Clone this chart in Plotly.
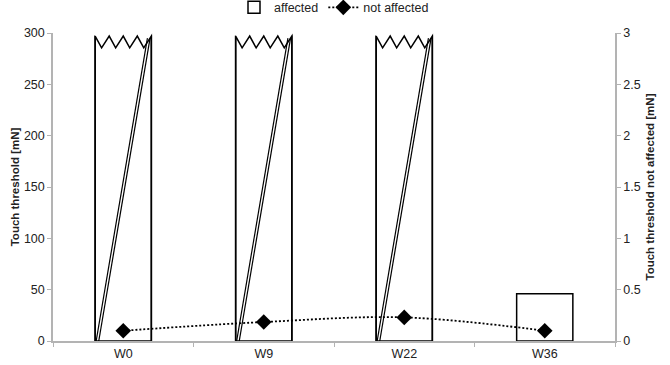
import plotly.graph_objects as go

categories = ["W0", "W9", "W22", "W36"]
affected = [297, 297, 297, 46]          # first three bars are broken (off scale)
broken = [True, True, True, False]
not_affected = [0.10, 0.185, 0.23, 0.10]

FONT = "Liberation Sans, Arial, sans-serif"
AXIS_GREY = "#b3b3b3"
TEXT = "#222222"
BAR_W = 0.4

fig = go.Figure()
fig.add_trace(go.Bar(
    x=categories, y=affected, name="affected", width=BAR_W,
    marker=dict(color="white", line=dict(color="black", width=1.5)),
    yaxis="y",
))
fig.add_trace(go.Scatter(
    x=categories, y=not_affected, name="not affected", mode="lines+markers",
    line=dict(color="black", width=1.8, dash="2px,2px", shape="spline"),
    marker=dict(symbol="diamond", size=12, color="black"),
    yaxis="y2",
))

# break marks on the off-scale bars
shapes = []
for i, (v, b) in enumerate(zip(affected, broken)):
    if not b:
        continue
    x0, x1 = i - BAR_W / 2, i + BAR_W / 2
    w = x1 - x0
    top, low = v, v - 11.5
    peaks = [0, 0.25, 0.5, 0.75, 1.0]
    valleys = [0.115, 0.365, 0.615, 0.865]
    pts = []
    for k in range(4):
        pts.append((x0 + peaks[k] * w, top))
        pts.append((x0 + valleys[k] * w, low))
    pts.append((x1, top))
    cover = "M " + " L ".join(f"{x},{y}" for x, y in pts) + f" L {x1 + 0.01},{top + 3} L {x0 - 0.01},{top + 3} Z"
    shapes.append(dict(type="path", path=cover, xref="x", yref="y",
                       fillcolor="white", line=dict(width=0), layer="above"))
    outline = f"M {x0},0 L " + " L ".join(f"{x},{y}" for x, y in pts) + f" L {x1},0"
    shapes.append(dict(type="path", path=outline, xref="x", yref="y",
                       line=dict(color="black", width=1.5), layer="above"))
    for a, c in [(0.018, 0.93), (0.064, 0.977)]:
        shapes.append(dict(type="line", xref="x", yref="y",
                           x0=x0 + a * w, y0=0, x1=x0 + c * w, y1=top - 2,
                           line=dict(color="black", width=1.2), layer="above"))

fig.update_layout(
    width=670, height=365,
    margin=dict(l=53, r=55, t=33, b=24, autoexpand=False),
    paper_bgcolor="white", plot_bgcolor="white",
    font=dict(family=FONT, size=12, color=TEXT),
    showlegend=True,
    legend=dict(orientation="h", x=0.5, xanchor="center", y=1.082, yanchor="middle",
                font=dict(size=12.5, color=TEXT), traceorder="normal",
                itemwidth=30, tracegroupgap=0),
    shapes=shapes,
    xaxis=dict(type="category", range=[-0.5, 3.5], showline=True, linecolor=AXIS_GREY,
               linewidth=1.5, ticks="outside", tickson="boundaries", ticklen=4,
               tickcolor=AXIS_GREY, showgrid=False, tickfont=dict(size=12.5)),
    yaxis=dict(range=[0, 300], dtick=50, showline=True, linecolor=AXIS_GREY, linewidth=1.5,
               ticks="outside", ticklen=4, tickcolor=AXIS_GREY, showgrid=False, zeroline=False,
               tickfont=dict(size=12.5),
               title=dict(text="Touch threshold [mN]", font=dict(size=11.5, weight="bold"), standoff=2)),
    yaxis2=dict(range=[0, 3], dtick=0.5, overlaying="y", side="right", showline=True,
                linecolor=AXIS_GREY, linewidth=1.5, ticks="outside", ticklen=4, tickcolor=AXIS_GREY,
                showgrid=False, zeroline=False, tickfont=dict(size=12.5),
                title=dict(text="Touch threshold not affected [mN]", font=dict(size=11.5, weight="bold"),
                           standoff=6)),
)

fig.write_html("out.html", config={"displayModeBar": False},
               post_script="document.body.style.margin='0';document.body.style.padding='0';")
